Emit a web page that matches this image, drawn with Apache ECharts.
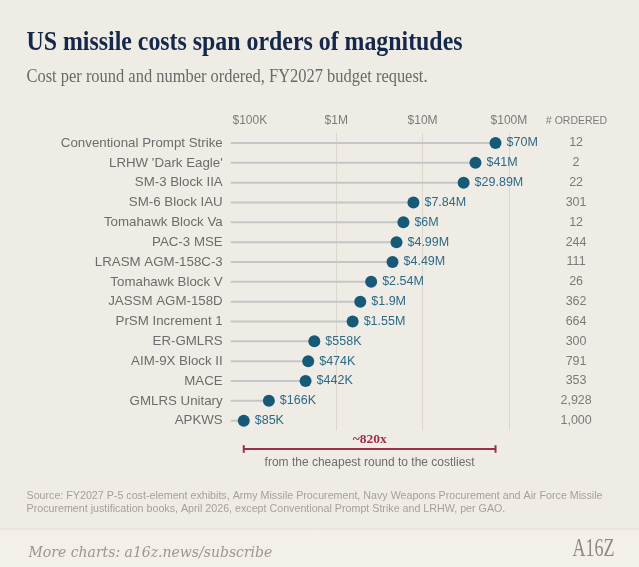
<!DOCTYPE html>
<html>
<head>
<meta charset="utf-8">
<script src="https://cdn.jsdelivr.net/npm/echarts@6/dist/echarts.min.js"></script>
<style>
html,body{margin:0;padding:0;background:#efece5;}
#c{width:639px;height:567px;}
</style>
</head>
<body>
<div id="c"></div>
<script>
// ---- data ----
const categories = ['Conventional Prompt Strike', "LRHW 'Dark Eagle'", 'SM-3 Block IIA', 'SM-6 Block IAU', 'Tomahawk Block Va', 'PAC-3 MSE', 'LRASM AGM-158C-3', 'Tomahawk Block V', 'JASSM AGM-158D', 'PrSM Increment 1', 'ER-GMLRS', 'AIM-9X Block II', 'MACE', 'GMLRS Unitary', 'APKWS'];
const costs = [70e6, 41e6, 29.89e6, 7.84e6, 6e6, 4.99e6, 4.49e6, 2.54e6, 1.9e6, 1.55e6, 558e3, 474e3, 442e3, 166e3, 85e3];
const costLabels = ['$70M', '$41M', '$29.89M', '$7.84M', '$6M', '$4.99M', '$4.49M', '$2.54M', '$1.9M', '$1.55M', '$558K', '$474K', '$442K', '$166K', '$85K'];
const ordered = ['12', '2', '22', '301', '12', '244', '111', '26', '362', '664', '300', '791', '353', '2,928', '1,000'];
const tickValues = [1e5, 1e6, 1e7, 1e8];
const tickLabels = ['$100K', '$1M', '$10M', '$100M'];
const gridValues = [1e6, 1e7, 1e8];
const axisMin = 60000;
const axisMax = 3e8;
const spreadLabel = '~820x';
const spreadNote = 'from the cheapest round to the costliest';

const titleText = 'US missile costs span orders of magnitudes';
const subtitleText = 'Cost per round and number ordered, FY2027 budget request.';
const sourceLine1 = 'Source: FY2027 P-5 cost-element exhibits, Army Missile Procurement, Navy Weapons Procurement and Air Force Missile';
const sourceLine2 = 'Procurement justification books, April 2026, except Conventional Prompt Strike and LRHW, per GAO.';
const footerText = 'More charts: a16z.news/subscribe';
const logoText = 'A16Z';

// ---- helpers ----
const mctx = document.createElement('canvas').getContext('2d');
function fitScale(text, font, target) {
  mctx.font = font;
  const w = mctx.measureText(text).width;
  return w > 0 ? target / w : 1;
}
const titleFont = 'bold 27px "Liberation Serif"';
const subFont = '18px "Liberation Serif"';
const logoFont = '25px "Liberation Serif"';
const sourceFont = '10.7px "Liberation Sans"';

const chart = echarts.init(document.getElementById('c'), null, {renderer: 'canvas'});
const n = categories.length;
const minCost = Math.min.apply(null, costs);
const maxCost = Math.max.apply(null, costs);

const option = {
  backgroundColor: '#efece5',
  animation: false,
  grid: {left: 230.7, top: 133.1, width: 319.4, height: 297.5, containLabel: false},
  xAxis: {
    type: 'log', logBase: 10, min: axisMin, max: axisMax, position: 'top',
    axisLine: {show: false}, axisTick: {show: false}, splitLine: {show: false},
    axisLabel: {
      margin: 6, color: '#7b7b7b', fontSize: 12, fontFamily: 'Liberation Sans',
      formatter: function (v) {
        const l = Math.log10(v);
        for (let i = 0; i < tickValues.length; i++) {
          if (Math.abs(Math.log10(tickValues[i]) - l) < 1e-6) return tickLabels[i];
        }
        return '';
      }
    }
  },
  yAxis: [
    {
      type: 'category', data: categories, inverse: true,
      axisLine: {show: false}, axisTick: {show: false}, splitLine: {show: false},
      axisLabel: {margin: 8, color: '#6c6c6c', fontSize: 13.3, fontFamily: 'Liberation Sans'}
    },
    {
      type: 'category', data: ordered, inverse: true, position: 'right',
      axisLine: {show: false}, axisTick: {show: false}, splitLine: {show: false},
      axisLabel: {margin: 26, align: 'center', color: '#7a7a7a', fontSize: 12.5, fontFamily: 'Liberation Sans'}
    }
  ],
  series: [
    {
      type: 'custom', z: 1, yAxisIndex: 0,
      data: costs.map((v, i) => [v, i]),
      renderItem: function (params, api) {
        const s = api.coord([axisMin, api.value(1)]);
        const e = api.coord([api.value(0), api.value(1)]);
        return {type: 'line', shape: {x1: s[0], y1: s[1], x2: e[0], y2: e[1]},
          style: {stroke: '#c4c6c7', lineWidth: 2}};
      },
      markLine: {
        silent: true, symbol: ['none', 'none'], animation: false, z: 0,
        label: {show: false},
        lineStyle: {color: '#dcd7cd', type: 'solid', width: 1},
        emphasis: {disabled: true},
        data: gridValues.map(v => ({xAxis: v}))
      }
    },
    {
      type: 'scatter', z: 3, yAxisIndex: 0,
      data: costs.map((v, i) => [v, i]),
      symbolSize: 12,
      itemStyle: {color: '#165a78', opacity: 1},
      label: {
        show: true, position: 'right', distance: 5,
        formatter: p => costLabels[p.dataIndex],
        color: '#2c6a86', fontSize: 12.5, fontFamily: 'Liberation Sans'
      },
      emphasis: {disabled: true}
    },
    {
      type: 'custom', z: 2, yAxisIndex: 0,
      data: [[minCost, n - 1]],
      renderItem: function (params, api) {
        const lo = api.coord([minCost, n - 1]);
        const hi = api.coord([maxCost, n - 1]);
        const y = lo[1] + 28.3;
        const mid = (lo[0] + hi[0]) / 2;
        const red = '#9c2f48';
        return {
          type: 'group',
          children: [
            {type: 'line', shape: {x1: lo[0], y1: y, x2: hi[0], y2: y}, style: {stroke: red, lineWidth: 2}},
            {type: 'line', shape: {x1: lo[0], y1: y - 3.8, x2: lo[0], y2: y + 3.8}, style: {stroke: red, lineWidth: 2}},
            {type: 'line', shape: {x1: hi[0], y1: y - 3.8, x2: hi[0], y2: y + 3.8}, style: {stroke: red, lineWidth: 2}},
            {type: 'text', style: {x: mid, y: y - 9.5, text: spreadLabel, align: 'center', verticalAlign: 'middle',
              fill: red, font: 'bold 13.5px "Liberation Serif"'}},
            {type: 'text', style: {x: mid, y: y + 13.3, text: spreadNote, align: 'center', verticalAlign: 'middle',
              fill: '#6d6d6d', font: '12px "Liberation Sans"'}}
          ]
        };
      }
    }
  ],
  graphic: [
    {type: 'rect', left: 0, top: 529, shape: {width: 639, height: 38}, style: {fill: '#f3f0ea'}, z: -10, silent: true},
    {type: 'line', shape: {x1: 0, y1: 529, x2: 639, y2: 529}, style: {stroke: '#e2dccf', lineWidth: 1}, silent: true},
    {type: 'text', x: 26.5, y: 43.5, scaleX: fitScale(titleText, titleFont, 436), silent: true,
      style: {text: titleText, font: titleFont, fill: '#14284a', align: 'left', verticalAlign: 'middle'}},
    {type: 'text', x: 26.5, y: 77, scaleX: fitScale(subtitleText, subFont, 401), silent: true,
      style: {text: subtitleText, font: subFont, fill: '#696969', align: 'left', verticalAlign: 'middle'}},
    {type: 'text', x: 576.5, y: 121, silent: true,
      style: {text: '# ORDERED', font: '10.5px "Liberation Sans"', fill: '#7b7b7b', align: 'center', verticalAlign: 'middle'}},
    {type: 'text', x: 26.5, y: 496, scaleX: fitScale(sourceLine1, sourceFont, 576), silent: true,
      style: {text: sourceLine1, font: sourceFont, fill: '#a6a198', align: 'left', verticalAlign: 'middle'}},
    {type: 'text', x: 26.5, y: 509, scaleX: fitScale(sourceLine1, sourceFont, 576), silent: true,
      style: {text: sourceLine2, font: sourceFont, fill: '#a6a198', align: 'left', verticalAlign: 'middle'}},
    {type: 'text', x: 28.5, y: 553, silent: true,
      style: {text: footerText, font: 'italic 14px "DejaVu Serif"', fill: '#9c978d', align: 'left', verticalAlign: 'middle'}},
    {type: 'text', x: 572.5, y: 549, scaleX: fitScale(logoText, logoFont, 42), silent: true,
      style: {text: logoText, font: logoFont, fill: '#8f8a81', align: 'left', verticalAlign: 'middle'}}
  ]
};
chart.setOption(option);
</script>
</body>
</html>
